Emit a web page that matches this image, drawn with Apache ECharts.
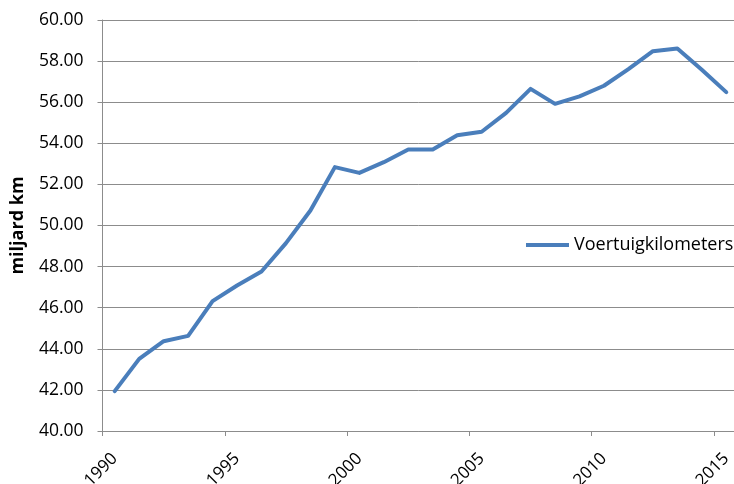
<!DOCTYPE html>
<html>
<head>
<meta charset="utf-8">
<script src="https://cdn.jsdelivr.net/npm/echarts@6/dist/echarts.min.js"></script>
<style>
  html, body { margin: 0; padding: 0; background: #fff; }
  #chart { width: 734px; height: 484px; }
</style>
</head>
<body>
<div id="chart"></div>
<script>
// Years on the category axis
const years = ['1990','1991','1992','1993','1994','1995','1996','1997','1998','1999',
  '2000','2001','2002','2003','2004','2005','2006','2007','2008','2009',
  '2010','2011','2012','2013','2014','2015'];

// Vehicle kilometres, billions
const voertuigkilometers = [41.94, 43.51, 44.37, 44.63, 46.32, 47.08, 47.76, 49.14, 50.73, 52.84,
  52.56, 53.08, 53.70, 53.70, 54.39, 54.56, 55.48, 56.65, 55.92, 56.28,
  56.80, 57.61, 58.48, 58.61, 57.58, 56.49];

const seriesName = 'Voertuigkilometers';
const yAxisTitle = 'miljard km';

const FONT = '"Open Sans", sans-serif';
const LINE_COLOR = '#4A7EBB';
const GRID_COLOR = '#8c8c8c';

const chart = echarts.init(document.getElementById('chart'), null, { renderer: 'canvas' });

chart.setOption({
  animation: false,
  backgroundColor: '#ffffff',
  // the plot area runs a few pixels past the right edge of the canvas
  grid: {
    left: 102.5, top: 20, width: 636, bottom: 53,
    containLabel: false,
    outerBoundsMode: 'none'
  },
  legend: {
    data: [{ name: seriesName, icon: 'rect' }],
    left: 526,
    top: 236,
    padding: 0,
    itemWidth: 43,
    itemHeight: 4,
    textStyle: { fontFamily: FONT, fontSize: 18, color: '#000' }
  },
  xAxis: {
    type: 'category',
    data: years,
    boundaryGap: true,
    axisLine: { lineStyle: { color: GRID_COLOR, width: 1 } },
    axisTick: { show: true, length: 5, lineStyle: { color: GRID_COLOR } },
    axisLabel: {
      interval: 4,
      rotate: 45,
      margin: 25,
      fontFamily: FONT,
      fontSize: 17,
      color: '#000'
    },
    splitLine: { show: false }
  },
  yAxis: {
    type: 'value',
    min: 40,
    max: 60,
    interval: 2,
    name: yAxisTitle,
    nameLocation: 'middle',
    nameGap: 76,
    nameTextStyle: { fontFamily: FONT, fontSize: 18, fontWeight: 'bold', color: '#000' },
    axisLine: { show: true, lineStyle: { color: GRID_COLOR, width: 1 } },
    axisTick: { show: true, length: 5, lineStyle: { color: GRID_COLOR } },
    axisLabel: {
      margin: 19,
      fontFamily: FONT,
      fontSize: 17.5,
      color: '#000',
      formatter: v => v.toFixed(2)
    },
    splitLine: { show: true, lineStyle: { color: GRID_COLOR, width: 1 } }
  },
  series: [{
    name: seriesName,
    type: 'line',
    data: voertuigkilometers,
    symbol: 'none',
    lineStyle: { color: LINE_COLOR, width: 4, join: 'round', cap: 'round' },
    itemStyle: { color: LINE_COLOR }
  }]
});
</script>
</body>
</html>
